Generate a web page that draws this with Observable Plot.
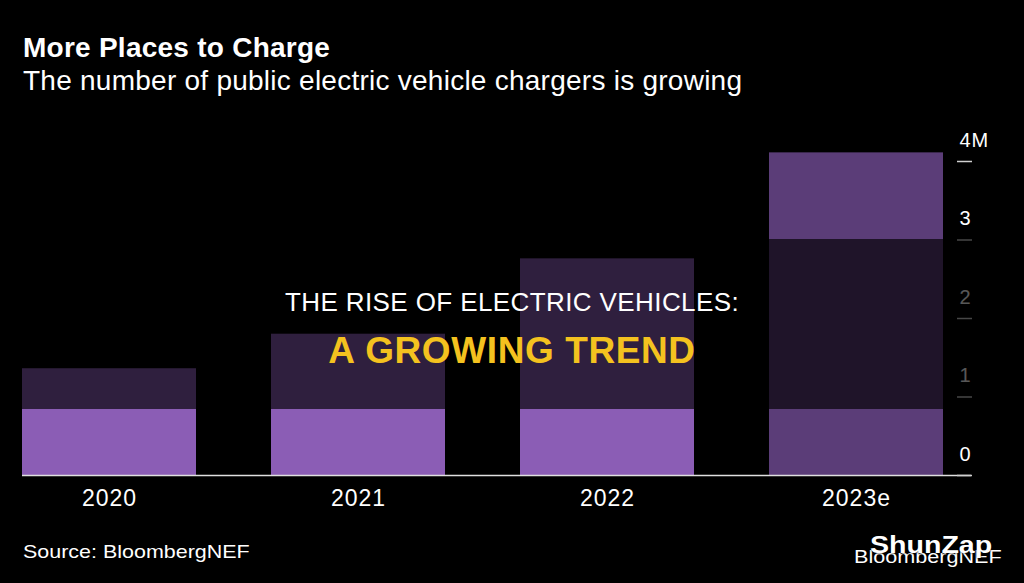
<!DOCTYPE html>
<html>
<head>
<meta charset="utf-8">
<script src="https://cdn.jsdelivr.net/npm/d3@7"></script>
<script src="https://cdn.jsdelivr.net/npm/@observablehq/plot@0.6"></script>
<style>
  html, body { margin: 0; padding: 0; background: #000; }
  body { width: 1024px; height: 583px; position: relative; overflow: hidden; font-family: "Liberation Sans", Arial, sans-serif; color: #fff; }
  .abs { position: absolute; line-height: 1; white-space: nowrap; }
  #title { left: 23px; top: 34px; font-size: 28px; font-weight: bold; letter-spacing: 0.25px; }
  #subtitle { left: 23px; top: 67px; font-size: 28px; letter-spacing: 0.25px; }
  #chart { position: absolute; left: 0; top: 120px; }
  #band { position: absolute; left: 0; top: 239px; width: 1024px; height: 170px; background: rgba(0,0,0,0.66); }
  #over1 { left: 0; width: 1024px; text-align: center; top: 289px; font-size: 26px; color: #fff; letter-spacing: 0.4px; }
  #over2 { left: 0; width: 1024px; text-align: center; top: 332px; font-size: 37px; font-weight: bold; color: #f4c21f; letter-spacing: 0.6px; }
  #source { left: 23px; top: 542px; font-size: 19px; transform: scaleX(1.13); transform-origin: left top; }
  #wm2 { left: 854px; top: 548px; font-size: 18px; transform: scaleX(1.2); transform-origin: left top; }
  #wm1 { left: 870px; top: 533px; font-size: 24px; font-weight: bold; transform: scaleX(1.19); transform-origin: left top; text-shadow: 0 0 2px #000; }
  svg [aria-label="x-axis tick label"] text { letter-spacing: 1px; }
  svg [aria-label="y-axis tick label"] text { letter-spacing: 1px; }
</style>
</head>
<body>
<div id="title" class="abs">More Places to Charge</div>
<div id="subtitle" class="abs">The number of public electric vehicle chargers is growing</div>
<div id="chart"></div>
<div id="band"></div>
<div id="over1" class="abs">THE RISE OF ELECTRIC VEHICLES:</div>
<div id="over2" class="abs">A GROWING TREND</div>
<div id="source" class="abs">Source: BloombergNEF</div>
<div id="wm2" class="abs">BloombergNEF</div>
<div id="wm1" class="abs">ShunZap</div>
<script>
const years = ["2020", "2021", "2022", "2023e"];
const chargers = [1.36, 1.80, 2.76, 4.11]; // millions
const status = ["actual", "actual", "actual", "estimate"];
const yTicks = [0, 1, 2, 3, 4];
const yTickLabels = ["0", "1", "2", "3", "4M"];

const data = years.map((y, i) => ({year: y, value: chargers[i], status: status[i]}));

const chart = Plot.plot({
  width: 1024,
  height: 400,
  marginLeft: 22,
  marginRight: 80,
  marginTop: 41,
  marginBottom: 45,
  style: {background: "transparent", color: "#fff", fontFamily: "'Liberation Sans', Arial, sans-serif"},
  x: {domain: years, paddingInner: 0.3, paddingOuter: 0, label: null},
  y: {domain: [0, 4], label: null},
  color: {domain: ["actual", "estimate"], range: ["#8b5db5", "#5b3d78"]},
  marks: [
    Plot.barY(data, {x: "year", y: "value", fill: "status"}),
    Plot.ruleY([0], {stroke: "#e0e0e0", strokeWidth: 1.5, insetRight: -27}),
    Plot.axisX({tickSize: 0, tickPadding: 14, fontSize: 23, fill: "#fff"}),
    Plot.axisY({anchor: "right", ticks: yTicks, tickSize: 15, dx: 12, tickFormat: () => "", stroke: "#d0d0d0", strokeWidth: 1.5}),
    Plot.axisY({anchor: "right", ticks: yTicks, tickSize: 0, tickPadding: 15, dy: -21, textAnchor: "start",
      fontSize: 20, fill: "#fff", tickFormat: d => yTickLabels[yTicks.indexOf(d)]})
  ]
});
document.getElementById("chart").appendChild(chart);
</script>
</body>
</html>
